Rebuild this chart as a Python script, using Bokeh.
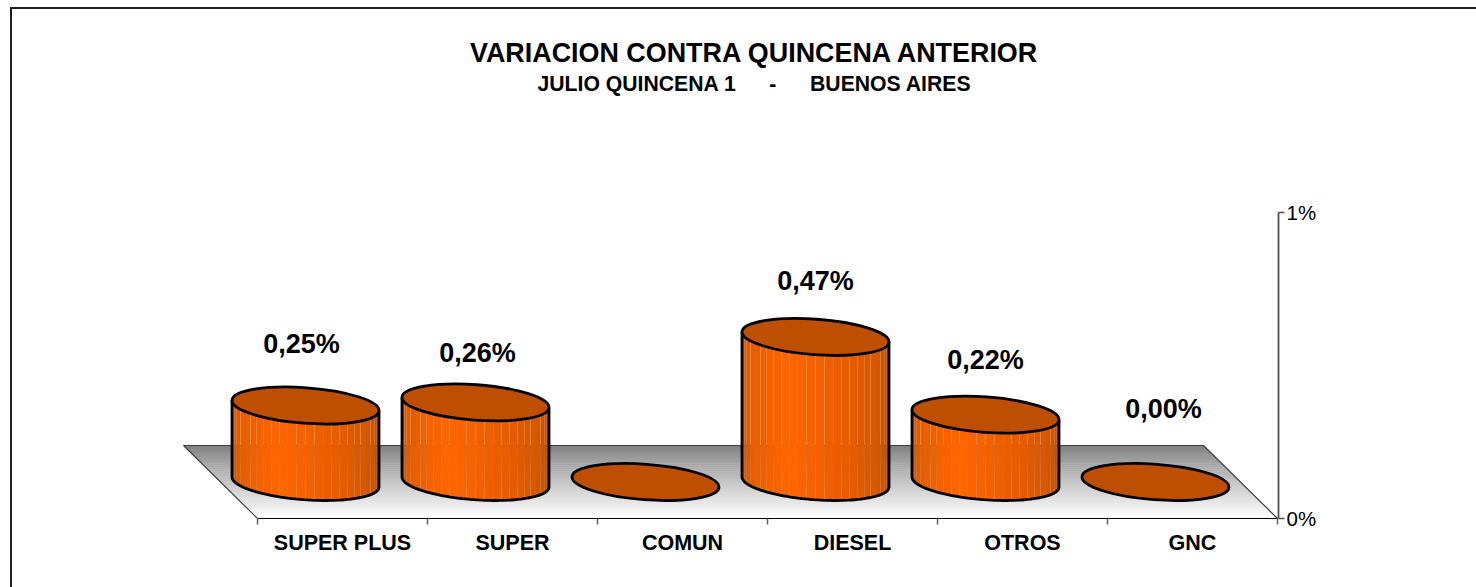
import numpy as np
from bokeh.plotting import figure
from bokeh.embed import file_html
from bokeh.resources import INLINE
from bokeh.models import (ColumnDataSource, LinearAxis, FixedTicker, Range1d, Title)
from bokeh.core.properties import value as fv

categories = ["SUPER PLUS", "SUPER", "COMUN", "DIESEL", "OTROS", "GNC"]
values = [0.25, 0.26, 0.0, 0.474, 0.22, 0.0]
labels = ["0,25%", "0,26%", "", "0,47%", "0,22%", "0,00%"]
label_dx = [-4, 2, 0, 0, 0, 8]
label_dy = [-43, -31, 0, -37, -36, -55]
y_ticks = [0, 1]
y_tick_labels = ["0%", "1%"]
title_text = "VARIACION CONTRA QUINCENA ANTERIOR"
subtitle_text = "JULIO QUINCENA 1\u00a0\u00a0\u00a0\u00a0\u00a0\u2009-\u00a0\u00a0\u00a0\u00a0\u00a0\u2009BUENOS AIRES"

FONT = "Liberation Sans"
ORG_X, ORG_Y = 12, 9                # figure origin on the page (border sits just outside it)
W, H = 1476 - ORG_X, 587 - ORG_Y
PX_X, PX_Y = 170.0, 306.0           # pixels per category / per 1 %
FR_L, FR_R, FR_T, FR_B = 0, 1278 - ORG_X, 94 - ORG_Y, 518 - ORG_Y   # frame in canvas pixels
AX0 = 342.0 - ORG_X                 # canvas x of first category on the axis
DEPTH = 73.0 / PX_Y                 # floor depth in value units
SHEAR = 74.0 / PX_X                 # floor shear in category units
A, B, K = 73.5, 17.8, 5.0           # top ellipse shape, pixels

p = figure(width=W, height=H, output_backend="svg", toolbar_location=None,
           x_range=Range1d((FR_L - AX0) / PX_X, (FR_R - AX0) / PX_X),
           y_range=Range1d(0, (FR_B - FR_T) / PX_Y),
           x_axis_location=None, y_axis_location=None,
           min_border_left=FR_L, min_border_right=W - FR_R,
           min_border_top=FR_T, min_border_bottom=H - FR_B,
           margin=(ORG_Y, 0, 0, ORG_X))
p.styles = {"box-shadow": "-2px 0 0 0 #202020, 0 -2px 0 0 #202020, -2px -2px 0 0 #202020"}
p.grid.visible = False
p.outline_line_color = None
p.background_fill_color = "white"
p.border_fill_color = "white"

# axes
xax = LinearAxis(ticker=FixedTicker(ticks=list(range(len(categories))),
                                    minor_ticks=[i - 0.5 for i in range(len(categories) + 1)]),
                 major_label_overrides={i: c for i, c in enumerate(categories)},
                 bounds=(-0.5, len(categories) - 0.5))
xax.major_tick_line_color = None
xax.minor_tick_out = 6
xax.minor_tick_in = 0
xax.minor_tick_line_color = "#606060"
xax.minor_tick_line_width = 1.5
xax.axis_line_color = "black"
xax.axis_line_width = 1.2
xax.major_label_text_font = FONT
xax.major_label_text_font_style = "bold"
xax.major_label_text_font_size = "21.5px"
xax.major_label_text_color = "black"
xax.major_label_standoff = 6
p.add_layout(xax, "below")

yax = LinearAxis(ticker=FixedTicker(ticks=y_ticks),
                 major_label_overrides={t: s for t, s in zip(y_ticks, y_tick_labels)},
                 bounds=(0, 1))
yax.axis_line_color = "#505050"
yax.axis_line_width = 1.8
yax.major_tick_in = 0
yax.major_tick_out = 6
yax.major_tick_line_color = "#505050"
yax.major_tick_line_width = 1.5
yax.minor_tick_line_color = None
yax.major_label_text_font = FONT
yax.major_label_text_font_size = "20.5px"
yax.major_label_text_color = "black"
yax.major_label_standoff = 2
yax.major_label_orientation = "horizontal"
p.add_layout(yax, "right")

# titles
t2 = Title(text=subtitle_text, align="left", offset=525, standoff=0,
           text_font=FONT, text_font_style="bold", text_font_size="21.2px", text_color="black")
t1 = Title(text=title_text, align="left", offset=457.5, standoff=3,
           text_font=FONT, text_font_style="bold", text_font_size="26.9px", text_color="black")
p.add_layout(t2, "above")
p.add_layout(t1, "above")

# floor: gradient bands
n = len(categories)
N = 37
fx, fy, fc = [], [], []
for i in range(N):
    f0, f1 = i / N, (i + 1.3) / N if i < N - 1 else 1.0   # f = 0 at the back
    xl = lambda f: -0.5 - SHEAR * (1 - f)
    xr = lambda f: n - 0.5 - SHEAR * (1 - f)
    fx.append([xl(f0), xr(f0), xr(f1), xl(f1)])
    fy.append([DEPTH * (1 - f0), DEPTH * (1 - f0), DEPTH * (1 - f1), DEPTH * (1 - f1)])
    g = int(round(126 + (255 - 126) * min(1, ((i + 0.5) / N) ** 0.85)))
    fc.append("#%02x%02x%02x" % (g, g, g))
p.patches(fx, fy, fill_color=fc, line_color=None)
p.line([-0.5, -0.5 - SHEAR, n - 0.5 - SHEAR, n - 0.5], [0, DEPTH, DEPTH, 0],
       line_color="#404040", line_width=1.2)

# cylinders
STRIPS = 26
def body_color(f):
    stops = [0.0, 0.12, 0.38, 0.55, 0.8, 1.0]
    rs = [0xC8, 0xE0, 0xFF, 0xF0, 0xD8, 0xB8]
    gs = [0x54, 0x5C, 0x66, 0x60, 0x58, 0x4C]
    return "#%02x%02x00" % (int(np.interp(f, stops, rs)), int(np.interp(f, stops, gs)))

def front(cx, cy, t):
    # t from pi (left) to 0 (right): front arc of an ellipse in data units
    return cx + A * np.cos(t) / PX_X, cy - (K * np.cos(t) + B * np.sin(t)) / PX_Y

cx = np.arange(n) - SHEAR / 2
base = DEPTH / 2
sx, sy, sc, ox, oy = [], [], [], [], []
for c, v in zip(cx, values):
    if v <= 0:
        continue
    top = base + v
    edges = np.linspace(np.pi, 0, STRIPS + 1)
    for j in range(STRIPS):
        tt = np.linspace(edges[j], edges[j + 1], 5)
        x_t, y_t = front(c, top, tt)
        x_b, y_b = front(c, base, tt)
        sx.append(list(x_t) + list(x_b[::-1]))
        sy.append(list(y_t) + list(y_b[::-1]))
        sc.append(body_color((j + 0.5) / STRIPS))
    tt = np.linspace(np.pi, 0, 60)
    xb, yb = front(c, base, tt)
    xt0, yt0 = front(c, top, np.array([np.pi, 0.0]))
    ox.append([xt0[0]] + list(xb) + [xt0[1]])
    oy.append([yt0[0]] + list(yb) + [yt0[1]])
p.patches(sx, sy, fill_color=sc, line_color=None)
p.multi_line(ox, oy, line_color="black", line_width=2.8)

M = np.array([[A, 0.0], [K, B]])
lam, vec = np.linalg.eigh(M @ M.T)
ang = np.arctan2(vec[1, 1], vec[0, 1])
p.ellipse(x=cx, y=[base + v for v in values],
          width=2 * np.sqrt(lam[1]), height=2 * np.sqrt(lam[0]), angle=-ang,
          width_units="screen", height_units="screen",
          fill_color="#BF4F00", line_color="black", line_width=2.8)

# value labels
src = ColumnDataSource(dict(x=cx, y=[base + v + 18.5 / PX_Y for v in values], t=labels,
                            dx=label_dx, dy=label_dy))
p.text("x", "y", text="t", source=src, x_offset="dx", y_offset="dy",
       text_font=fv(FONT), text_font_style="bold", text_font_size="27px",
       text_color="black", text_align="center", text_baseline="middle")

open("out.html", "w").write(file_html(p, INLINE))
